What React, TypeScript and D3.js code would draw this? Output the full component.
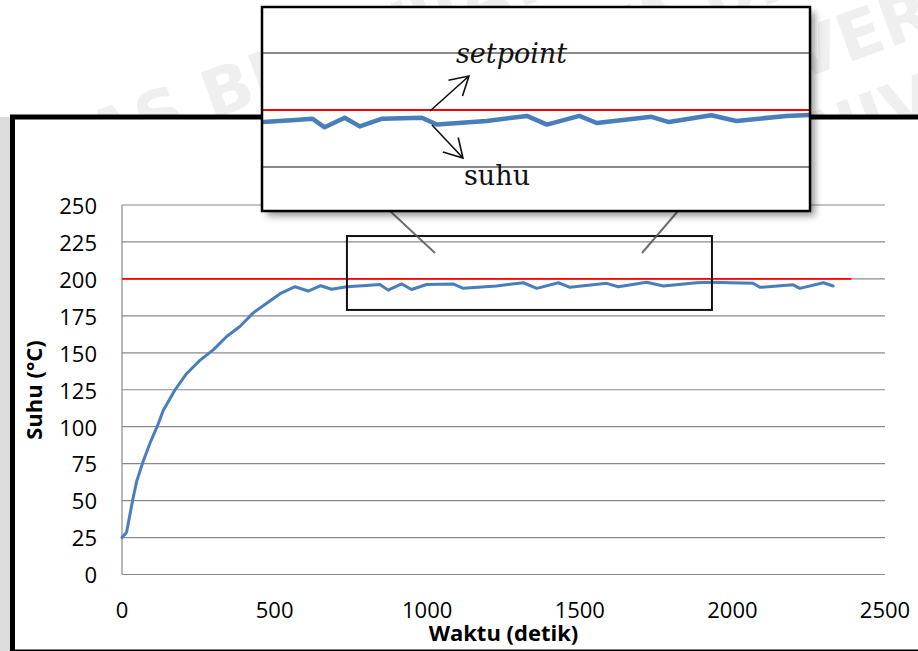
import React from 'react';
import * as d3 from 'd3';

// Suhu oven terhadap waktu
const waktu = [
  0, 15, 35, 48, 70, 92, 119, 135, 174, 212, 256, 299, 343, 387, 430, 474, 518, 567, 610, 651,
  687, 736, 800, 845, 872, 916, 949, 998, 1085, 1118, 1227, 1315, 1359, 1430, 1468, 1588, 1626,
  1719, 1774, 1883, 1937, 1992, 2068, 2090, 2199, 2221, 2298, 2330,
];
const suhu = [
  25, 28.6, 50.4, 63, 77, 89, 102, 111, 125, 136, 145, 152, 161, 168, 177, 183.5, 190, 194.7,
  191.8, 195.4, 193, 194.7, 195.5, 196.2, 192.4, 196.6, 192.8, 196.2, 196.6, 193.6, 195.2, 197.4,
  193.6, 197.4, 194.3, 197, 194.7, 197.7, 195.2, 197.4, 197.8, 197.4, 197, 194.3, 196, 193.6,
  197.4, 195.2,
];
const setpointWaktu = [0, 2390];
const setpointSuhu = [200, 200];

const xTicks = [0, 500, 1000, 1500, 2000, 2500];
const yTicks = [0, 25, 50, 75, 100, 125, 150, 175, 200, 225, 250];

// area yang diperbesar
const zoomWaktu = [737, 1933];
const zoomSuhu = [179, 229];
const insetTicks = [175, 200, 225];

const W = 918;
const H = 651;

const arrow = (x1: number, y1: number, x2: number, y2: number, len = 21, ang = Math.PI / 6) => {
  const a = Math.atan2(y1 - y2, x1 - x2);
  const p1 = [x2 + len * Math.cos(a + ang), y2 + len * Math.sin(a + ang)];
  const p2 = [x2 + len * Math.cos(a - ang), y2 + len * Math.sin(a - ang)];
  return `M${x1},${y1}L${x2},${y2}M${p1[0]},${p1[1]}L${x2},${y2}L${p2[0]},${p2[1]}`;
};

const App = () => {
  // main chart scales
  const x = d3.scaleLinear().domain([0, 2500]).range([122, 885]);
  const y = d3.scaleLinear().domain([0, 250]).range([574.5, 205]);

  // inset scales
  const ix = d3.scaleLinear().domain(zoomWaktu).range([263, 809]);
  const iy = d3.scaleLinear().domain([175, 225]).range([167, 53]);

  const line = d3
    .line<number>()
    .x((_, i) => x(waktu[i]))
    .y((d) => y(d));
  const spLine = d3
    .line<number>()
    .x((_, i) => x(setpointWaktu[i]))
    .y((d) => y(d));
  const insetLine = d3
    .line<number>()
    .x((_, i) => ix(waktu[i]))
    .y((d) => iy(d));
  const insetSp = d3
    .line<number>()
    .x((_, i) => ix(setpointWaktu[i]))
    .y((d) => iy(d));

  const rx0 = x(zoomWaktu[0]);
  const rx1 = x(zoomWaktu[1]);
  const ry0 = y(zoomSuhu[1]);
  const ry1 = y(zoomSuhu[0]);

  const font = '"Open Sans", sans-serif';

  return (
    <svg
      width={W}
      height={H}
      style={{ position: 'absolute', left: 0, top: 0, background: '#fff' }}
    >
      <defs>
        <filter id="shadow" x="-5%" y="-5%" width="115%" height="125%">
          <feDropShadow dx="5" dy="5" stdDeviation="3.5" floodColor="#000" floodOpacity="0.4" />
        </filter>
        <clipPath id="insetClip">
          <rect x={263} y={8} width={546} height={202} />
        </clipPath>
      </defs>

      {/* watermark */}
      <g fill="#efefef" fontFamily="DejaVu Sans" fontWeight="bold" fontSize={66}>
        {[0, 1, 2, 3, 4, 5, 6].map((i) => (
          <text key={i} x={-260 + (i % 2) * 70} y={40 + i * 82} transform="rotate(-20 459 200)">
            UNIVERSITAS BRAWIJAYA UNIVERSITAS BRAWIJAYA
          </text>
        ))}
      </g>
      <rect x={0} y={117} width={11} height={H - 117} fill="#dcdcdc" />

      {/* frame */}
      <rect x={12.5} y={117} width={1000} height={535} fill="#fff" stroke="#000" strokeWidth={5} />

      {/* grid */}
      <g stroke="#8a8a8a" strokeWidth={1.2}>
        {yTicks.map((t) => (
          <line key={t} x1={x(0)} x2={x(2500)} y1={y(t)} y2={y(t)} />
        ))}
        <line x1={x(0)} x2={x(0)} y1={y(0)} y2={y(250)} />
      </g>

      {/* y tick labels */}
      <g fontFamily={font} fontSize={22} textAnchor="end" fill="#000">
        {yTicks.map((t) => (
          <text key={t} x={97} y={y(t)} dy="0.4em">
            {t}
          </text>
        ))}
      </g>
      {/* x tick labels */}
      <g fontFamily={font} fontSize={22} textAnchor="middle" fill="#000">
        {xTicks.map((t) => (
          <text key={t} x={x(t)} y={618}>
            {t}
          </text>
        ))}
      </g>

      <text
        transform="translate(42,390) rotate(-90)"
        textAnchor="middle"
        fontFamily={font}
        fontWeight="bold"
        fontSize={22}
      >
        Suhu (°C)
      </text>
      <text x={(x(0) + x(2500)) / 2} y={641} textAnchor="middle" fontFamily={font} fontWeight="bold" fontSize={22}>
        Waktu (detik)
      </text>

      {/* series */}
      <path d={spLine(setpointSuhu) || ''} fill="none" stroke="#ff0000" strokeWidth={1.6} />
      <path
        d={line(suhu) || ''}
        fill="none"
        stroke="#4a7ebb"
        strokeWidth={3}
        strokeLinejoin="round"
        strokeLinecap="round"
      />

      {/* zoom rectangle */}
      <rect x={rx0} y={ry0} width={rx1 - rx0} height={ry1 - ry0} fill="none" stroke="#111" strokeWidth={2} />

      {/* connectors */}
      <g stroke="#555" strokeWidth={2} opacity={0.85}>
        <line x1={390} y1={211} x2={435} y2={253} />
        <line x1={678} y1={211} x2={642} y2={253} />
      </g>

      {/* inset */}
      <rect x={262} y={7} width={548} height={204} fill="#fff" filter="url(#shadow)" />
      <g clipPath="url(#insetClip)">
        <g stroke="#8a8a8a" strokeWidth={2}>
          {insetTicks.map((t) => (
            <line key={t} x1={262} x2={810} y1={iy(t)} y2={iy(t)} />
          ))}
        </g>
        <path d={insetSp(setpointSuhu) || ''} fill="none" stroke="#ff0000" strokeWidth={2} />
        <path
          d={insetLine(suhu) || ''}
          fill="none"
          stroke="#4a7ebb"
          strokeWidth={4.5}
          strokeLinejoin="round"
        />
      </g>
      <rect x={262} y={7} width={548} height={204} fill="none" stroke="#000" strokeWidth={2.5} />

      {/* annotations */}
      <g stroke="#111" strokeWidth={1.6} fill="none">
        <path d={arrow(430, 111, 469, 76)} />
        <path d={arrow(432, 125, 463, 158)} />
      </g>
      <text x={456} y={63} fontFamily="DejaVu Serif" fontStyle="italic" fontSize={27} fill="#111">
        setpoint
      </text>
      <text x={464} y={185} fontFamily="DejaVu Serif" fontSize={27} fill="#111">
        suhu
      </text>
    </svg>
  );
};

export default App;
